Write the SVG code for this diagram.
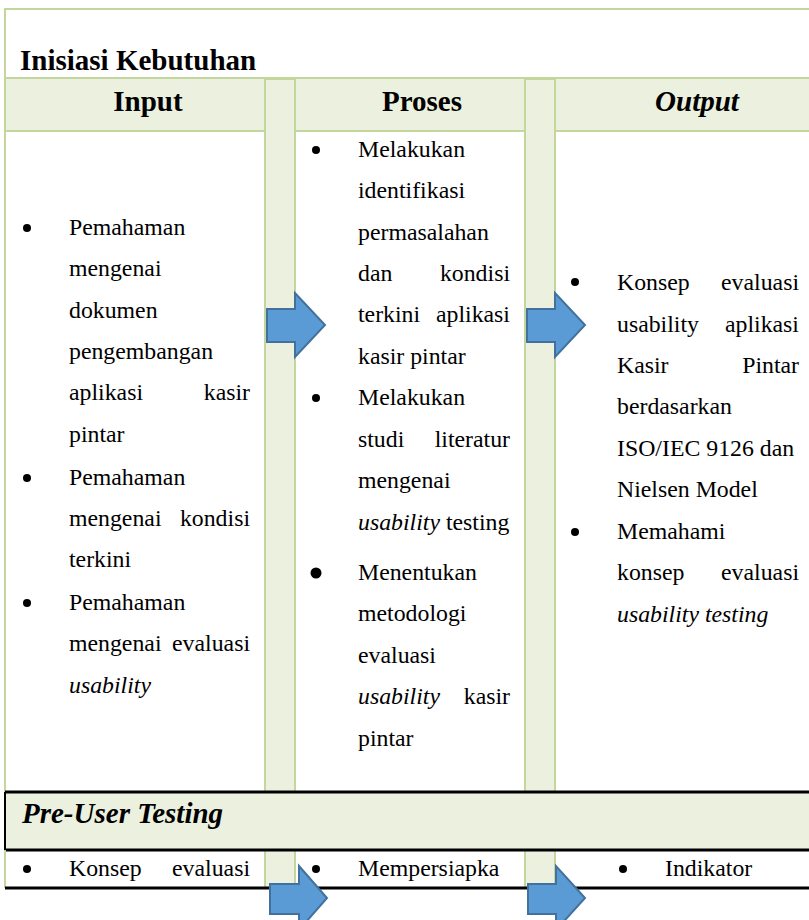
<svg xmlns="http://www.w3.org/2000/svg" width="809" height="920" viewBox="0 0 809 920">
  <style>
    .body { font-family: "Liberation Serif", "Times New Roman", serif; font-size: 23.8px; fill: #000; }
    .it { font-style: italic; }
    .end { text-anchor: end; }
    .head { font-family: "Liberation Serif", "Times New Roman", serif; font-size: 29px; font-weight: bold; fill: #000; }
    .mid { text-anchor: middle; }
    .cell { fill: #ffffff; stroke: #c3d69b; stroke-width: 2; }
    .band { fill: #ebf1de; stroke: #c3d69b; stroke-width: 2; }
    .gap { fill: #ebf1de; stroke: #c3d69b; stroke-width: 2; }
    .rule { stroke: #000; stroke-width: 3; }
    .arrow { fill: #5b9bd5; stroke: #41719c; stroke-width: 2; stroke-linejoin: miter; }
    .dot { fill: #000; }
  </style>

  <rect width="809" height="920" fill="#ffffff"/>

  <!-- Stage 1: Inisiasi Kebutuhan -->
  <g id="stage-inisiasi">
    <path d="M5 888 V9 H809" fill="none" stroke="#c3d69b" stroke-width="2"/>
    <text class="head" x="20" y="70">Inisiasi Kebutuhan</text>
  </g>

  <!-- column headings band -->
  <g id="header-row">
    <rect class="band" x="5" y="78" width="806" height="53"/>
    <text class="head mid" x="148" y="111">Input</text>
    <text class="head mid" x="422" y="111">Proses</text>
    <text class="head mid it" x="697" y="111">Output</text>
  </g>

  <!-- Input cell -->
  <g id="input-cell">
    <rect class="cell" x="5" y="131" width="260" height="661"/>
    <circle class="dot" cx="27" cy="228" r="4"/>
    <text class="body" x="69" y="235">Pemahaman</text>
    <text class="body" x="69" y="276">mengenai</text>
    <text class="body" x="69" y="318">dokumen</text>
    <text class="body" x="69" y="359">pengembangan</text>
    <text class="body" x="69" y="400">aplikasi</text>
    <text class="body end" x="250" y="400">kasir</text>
    <text class="body" x="69" y="442">pintar</text>
    <circle class="dot" cx="27" cy="478" r="4"/>
    <text class="body" x="69" y="485">Pemahaman</text>
    <text class="body" x="69" y="526">mengenai</text>
    <text class="body end" x="250" y="526">kondisi</text>
    <text class="body" x="69" y="567">terkini</text>
    <circle class="dot" cx="27" cy="603" r="4"/>
    <text class="body" x="69" y="610">Pemahaman</text>
    <text class="body" x="69" y="651">mengenai</text>
    <text class="body end" x="250" y="651">evaluasi</text>
    <text class="body it" x="69" y="693">usability</text>
  </g>

  <!-- Proses cell -->
  <g id="proses-cell">
    <rect class="cell" x="295" y="131" width="230" height="661"/>
    <circle class="dot" cx="316" cy="150" r="4"/>
    <text class="body" x="358" y="157">Melakukan</text>
    <text class="body" x="358" y="198">identifikasi</text>
    <text class="body" x="358" y="240">permasalahan</text>
    <text class="body" x="358" y="281">dan</text>
    <text class="body end" x="510" y="281">kondisi</text>
    <text class="body" x="358" y="322">terkini</text>
    <text class="body end" x="510" y="322">aplikasi</text>
    <text class="body" x="358" y="364">kasir pintar</text>
    <circle class="dot" cx="316" cy="398" r="4"/>
    <text class="body" x="358" y="405">Melakukan</text>
    <text class="body" x="358" y="447">studi</text>
    <text class="body end" x="510" y="447">literatur</text>
    <text class="body" x="358" y="488">mengenai</text>
    <text class="body" x="358" y="530"><tspan class="it">usability</tspan> testing</text>
    <circle class="dot" cx="316" cy="573" r="5.5"/>
    <text class="body" x="358" y="580">Menentukan</text>
    <text class="body" x="358" y="621">metodologi</text>
    <text class="body" x="358" y="663">evaluasi</text>
    <text class="body it" x="358" y="704">usability</text>
    <text class="body end" x="510" y="704">kasir</text>
    <text class="body" x="358" y="746">pintar</text>
  </g>

  <!-- Output cell -->
  <g id="output-cell">
    <rect class="cell" x="555" y="131" width="256" height="661"/>
    <circle class="dot" cx="575" cy="282" r="4"/>
    <text class="body" x="617" y="290">Konsep</text>
    <text class="body end" x="799" y="290">evaluasi</text>
    <text class="body" x="617" y="332">usability</text>
    <text class="body end" x="799" y="332">aplikasi</text>
    <text class="body" x="617" y="373">Kasir</text>
    <text class="body end" x="799" y="373">Pintar</text>
    <text class="body" x="617" y="414">berdasarkan</text>
    <text class="body" x="617" y="456">ISO/IEC 9126 dan</text>
    <text class="body" x="617" y="497">Nielsen Model</text>
    <circle class="dot" cx="575" cy="532" r="4"/>
    <text class="body" x="617" y="539">Memahami</text>
    <text class="body" x="617" y="580">konsep</text>
    <text class="body end" x="799" y="580">evaluasi</text>
    <text class="body it" x="617" y="622">usability testing</text>
  </g>

  <!-- spacer columns between the cells -->
  <g id="spacers">
    <rect class="gap" x="265" y="79" width="30" height="713"/>
    <rect class="gap" x="525" y="79" width="30" height="713"/>
    <rect class="gap" x="265" y="850" width="30" height="38"/>
    <rect class="gap" x="525" y="850" width="30" height="38"/>
  </g>

  <!-- Stage 2: Pre-User Testing -->
  <g id="stage-pre-user">
    <rect x="5" y="792" width="806" height="58" fill="#ebf1de"/>
    <line class="rule" x1="5" y1="792" x2="809" y2="792"/>
    <line class="rule" x1="5" y1="850" x2="809" y2="850"/>
    <line x1="5" y1="792" x2="5" y2="850" stroke="#000" stroke-width="2"/>
    <text class="head it" x="22" y="823">Pre-User Testing</text>
  </g>

  <g id="pre-user-row">
    <line x1="5" y1="850" x2="5" y2="888" stroke="#c3d69b" stroke-width="2"/>
    <circle class="dot" cx="27" cy="869" r="4"/>
    <text class="body" x="69" y="876">Konsep</text>
    <text class="body end" x="250" y="876">evaluasi</text>
    <circle class="dot" cx="316" cy="869" r="4"/>
    <text class="body" x="358" y="876">Mempersiapka</text>
    <circle class="dot" cx="623" cy="869" r="4"/>
    <text class="body" x="665" y="876">Indikator</text>
    <line class="rule" x1="5" y1="888" x2="809" y2="888"/>
  </g>

  <!-- block arrows between the columns -->
  <g id="connectors">
    <polygon class="arrow" points="267,309 295,309 295,293 325,325 295,357 295,342 267,342"/>
    <polygon class="arrow" points="527,309 555,309 555,293 585,325 555,357 555,342 527,342"/>
    <polygon class="arrow" points="270,884 299,884 299,866 327,898 299,930 299,914 270,914"/>
    <polygon class="arrow" points="528,884 556,884 556,866 585,898 556,930 556,914 528,914"/>
  </g>
</svg>
